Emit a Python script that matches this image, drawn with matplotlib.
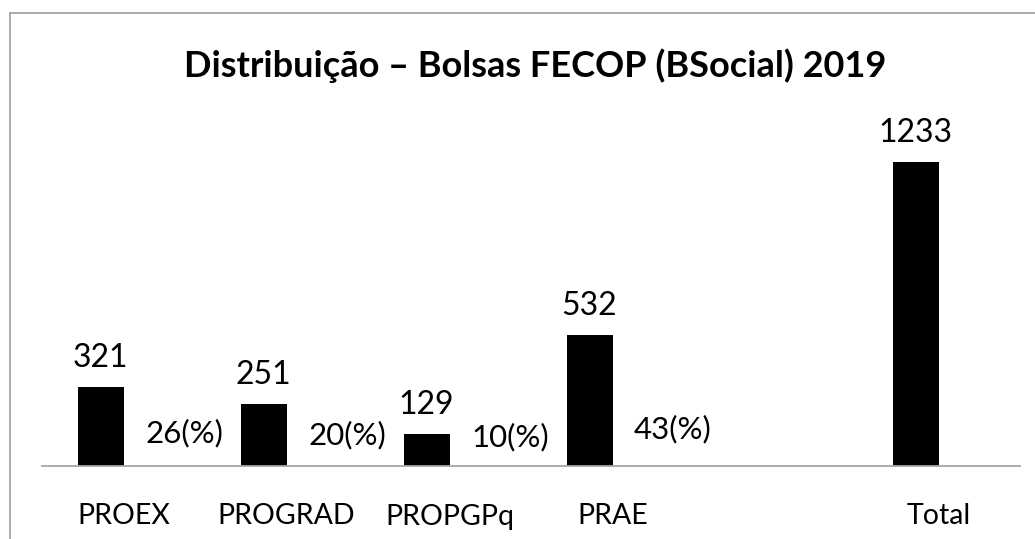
import matplotlib
matplotlib.use("Agg")
import matplotlib.pyplot as plt
from matplotlib.lines import Line2D
import numpy as np

plt.rcParams['font.family'] = ['Lato', 'DejaVu Sans']

# data
categorias = ["PROEX", "PROGRAD", "PROPGPq", "PRAE", "", "Total"]
bolsas = [321, 251, 129, 532, None, 1233]
percentual = [26, 20, 10, 43, None, None]

titulo = "Distribuição – Bolsas FECOP (BSocial) 2019"

W, H = 1035, 539
fig = plt.figure(figsize=(W / 100, H / 100), dpi=100)
ax = fig.add_axes([42 / W, 1 - 466 / H, 978 / W, 0.6405])

largura = 0.282
pos = np.arange(len(categorias))

# bars with counts (left of the group) and invisible percentage bars (right)
for i, (v, p) in enumerate(zip(bolsas, percentual)):
    if v is not None:
        ax.bar(pos[i] - largura / 2, v, largura, color='black', zorder=1)
        ax.annotate(str(v), (pos[i] - largura / 2, v), xytext=(0, 14.5),
                    textcoords='offset points', ha='center', va='baseline',
                    fontsize=23)
    if p is not None:
        ax.bar(pos[i] + largura / 2, p, largura, color='white', zorder=0)
        ax.annotate(str(p) + "(%)", (pos[i] + largura / 2, p), xytext=(-1, 12),
                    textcoords='offset points', ha='left', va='baseline',
                    fontsize=22.5)

ax.set_xlim(-0.5, len(categorias) - 0.5)
ax.set_ylim(0, 1400)
ax.set_xticks(pos)
ax.set_xticklabels(categorias, fontsize=20.5)
ax.tick_params(axis='x', length=0, pad=27)
ax.set_yticks([])
for s in ['top', 'left', 'right']:
    ax.spines[s].set_visible(False)
ax.spines['bottom'].set_color('#a6a6a6')
ax.spines['bottom'].set_linewidth(1.3)
ax.patch.set_alpha(0)

fig.text(535 / W, 1 - 77 / H, titulo, ha='center', va='baseline',
         fontsize=26, fontweight='bold')

# outer frame (top and left edge only, as in the screenshot)
fig.add_artist(Line2D([10 / W, 1], [1 - 13 / H, 1 - 13 / H],
                      transform=fig.transFigure, color='#a6a6a6', lw=1.3))
fig.add_artist(Line2D([10 / W, 10 / W], [0, 1 - 13 / H],
                      transform=fig.transFigure, color='#a6a6a6', lw=1.3))

fig.savefig("out.png", dpi=100, facecolor='white')
